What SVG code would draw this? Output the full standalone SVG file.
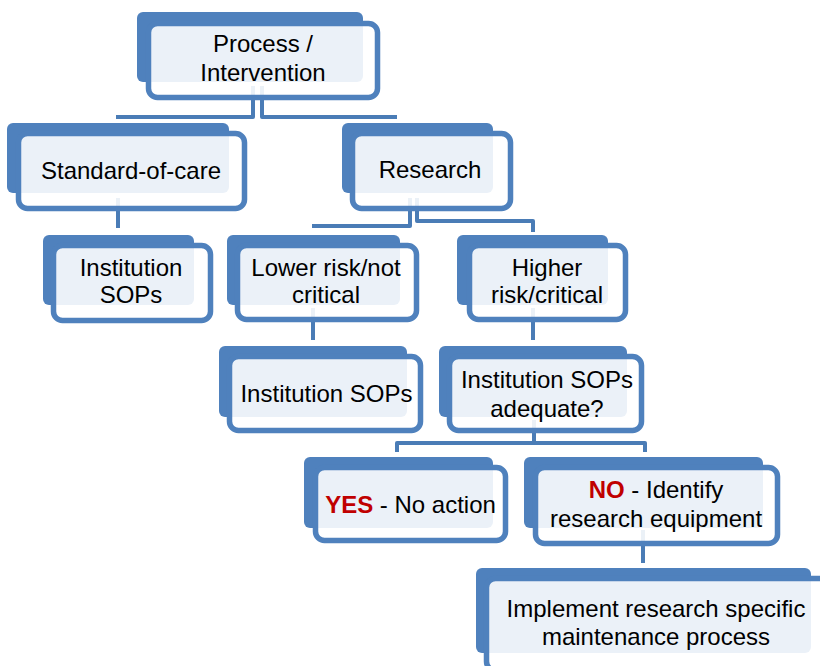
<svg xmlns="http://www.w3.org/2000/svg" width="820" height="666" viewBox="0 0 820 666">
<style>
.back{fill:#4F81BD;}
.front{fill:#FFFFFF;fill-opacity:0.89;stroke:#4F81BD;stroke-width:5.5;}
.t{font-family:"Liberation Sans",Arial,sans-serif;font-size:24px;fill:#000;text-anchor:middle;}
.red{fill:#C00000;font-weight:bold;}
.c{fill:none;stroke:#4A7CB6;stroke-width:4;stroke-linejoin:round;}
.ch{fill:none;stroke:#3F6CA3;stroke-width:4;}
</style>
<rect width="820" height="666" fill="#FFFFFF"/>
<g id="connectors">
<path class="c" d="M253,86 V117 H116"/>
<path class="c" d="M262,86 V117 H397"/>
<path class="c" d="M118,198 V228"/>
<path class="c" d="M410,198 V226 H312"/>
<path class="c" d="M417,198 V221 H533 V232"/>
<path class="c" d="M313,308 V340"/>
<path class="c" d="M533,308 V340"/>
<path class="c" d="M534,420 V443 H397 V452"/>
<path class="c" d="M534,443 H645 V452"/>
<path class="c" d="M643,530 V563"/>
</g>
<g id="n-process">
<rect class="back" x="137" y="12" width="226" height="70" rx="6"/>
<rect class="front" x="148.5" y="23.5" width="229" height="74" rx="9"/>
<text class="t" x="263" y="52">Process /</text>
<text class="t" x="263" y="81">Intervention</text>
</g>
<g id="n-standard">
<rect class="back" x="7" y="123" width="222" height="70" rx="6"/>
<rect class="front" x="18.5" y="133.5" width="226" height="75" rx="9"/>
<text class="t" x="131" y="179">Standard-of-care</text>
</g>
<g id="n-research">
<rect class="back" x="342" y="123" width="151" height="70" rx="6"/>
<rect class="front" x="352.5" y="133.5" width="158" height="75" rx="9"/>
<text class="t" x="430" y="178">Research</text>
</g>
<g id="n-sops1">
<rect class="back" x="43" y="235" width="151" height="70" rx="6"/>
<rect class="front" x="53.5" y="245.5" width="157" height="75" rx="9"/>
<text class="t" x="131" y="276">Institution</text>
<text class="t" x="131" y="303">SOPs</text>
</g>
<g id="n-lower">
<rect class="back" x="227" y="235" width="173" height="70" rx="6"/>
<rect class="front" x="237.5" y="245.5" width="179" height="74" rx="9"/>
<text class="t" x="326" y="276">Lower risk/not</text>
<text class="t" x="326" y="303">critical</text>
</g>
<g id="n-higher">
<rect class="back" x="457" y="235" width="151" height="70" rx="6"/>
<rect class="front" x="469.5" y="245.5" width="156" height="74" rx="9"/>
<text class="t" x="547" y="276">Higher</text>
<text class="t" x="547" y="303">risk/critical</text>
</g>
<g id="n-sops2">
<rect class="back" x="219" y="346" width="188" height="71" rx="6"/>
<rect class="front" x="229.5" y="356.5" width="191" height="74" rx="9"/>
<text class="t" x="326.5" y="402">Institution SOPs</text>
</g>
<g id="n-adequate">
<rect class="back" x="439" y="346" width="188" height="71" rx="6"/>
<rect class="front" x="449.5" y="356.5" width="192" height="74" rx="9"/>
<text class="t" x="547" y="388">Institution SOPs</text>
<text class="t" x="547" y="417">adequate?</text>
</g>
<g id="n-yes">
<rect class="back" x="304" y="457" width="189" height="71" rx="6"/>
<rect class="front" x="315.5" y="467.5" width="190" height="73" rx="9"/>
<text class="t" x="410.5" y="513"><tspan class="red">YES</tspan> - No action</text>
</g>
<g id="n-no">
<rect class="back" x="524" y="457" width="239" height="71" rx="6"/>
<rect class="front" x="535.5" y="467.5" width="242" height="76" rx="9"/>
<text class="t" x="656" y="498"><tspan class="red">NO</tspan> - Identify</text>
<text class="t" x="656" y="527">research equipment</text>
</g>
<g id="n-implement">
<rect class="back" x="476" y="568" width="335" height="85" rx="6"/>
<rect class="front" x="486.5" y="578.5" width="360" height="92" rx="9"/>
<text class="t" x="656" y="617">Implement research specific</text>
<text class="t" x="656" y="645">maintenance process</text>
</g>
</svg>
